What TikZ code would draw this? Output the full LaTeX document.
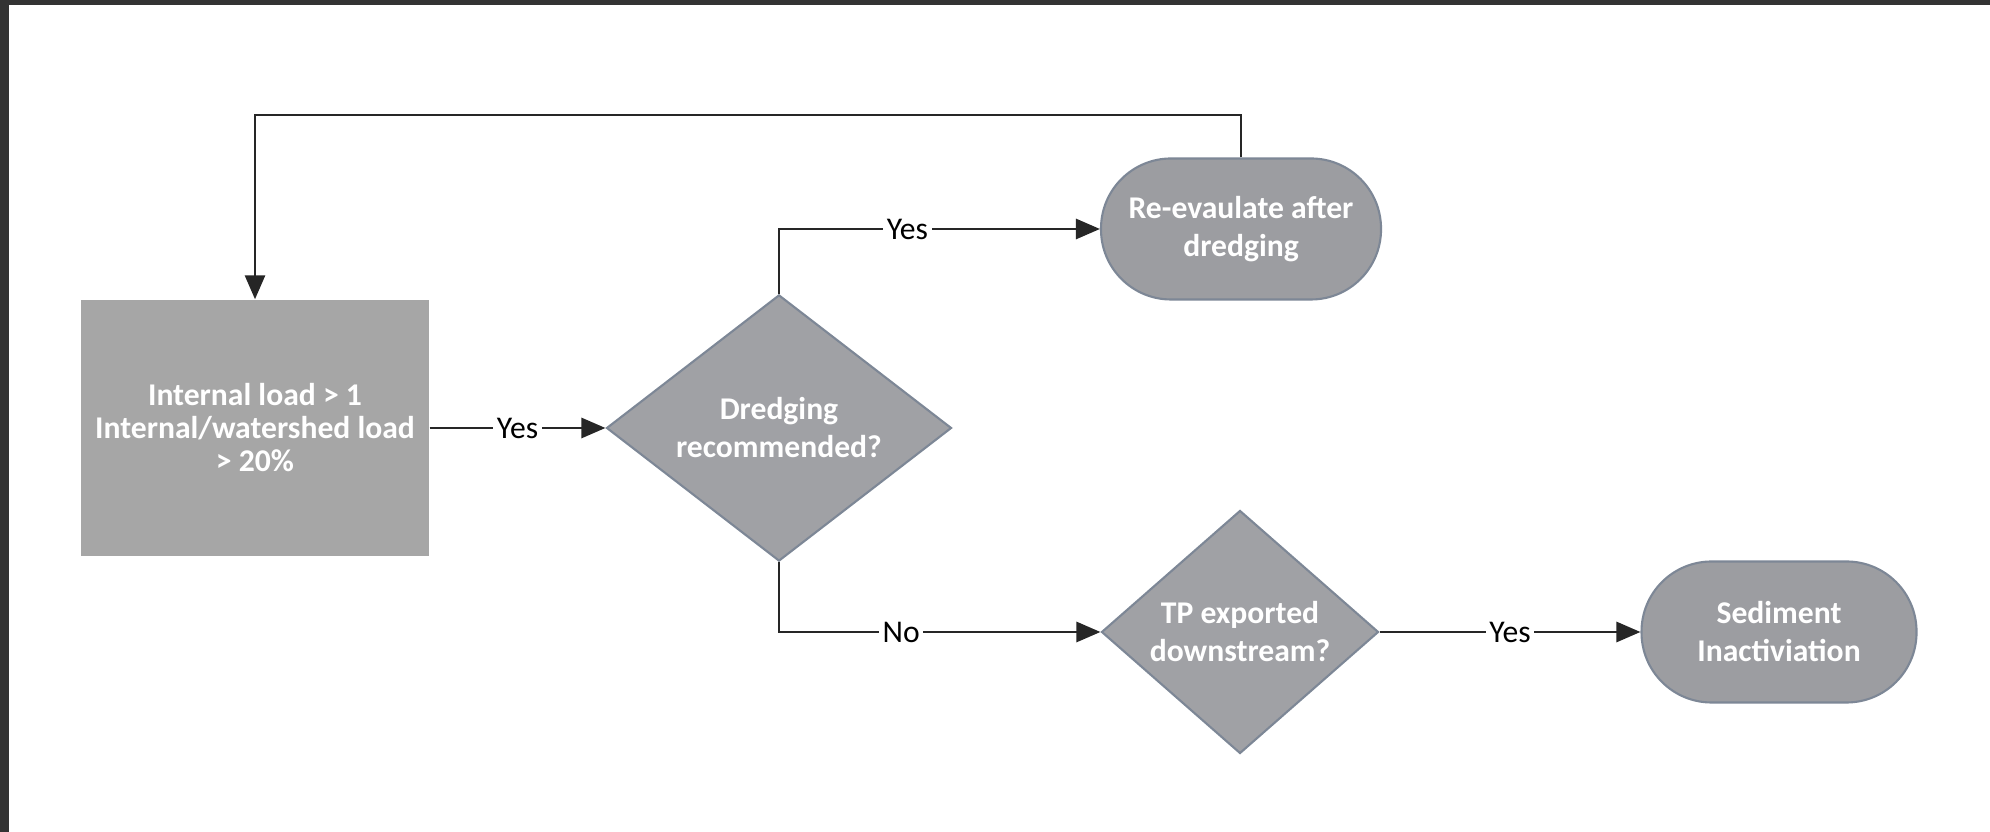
\documentclass[tikz,border=0pt]{standalone}
\usepackage{fontspec}
\setmainfont{Carlito}
\usetikzlibrary{arrows.meta,shapes.geometric}
\definecolor{cbox}{HTML}{A6A6A6}
\definecolor{cdec}{HTML}{A0A1A5}
\definecolor{cend}{HTML}{9C9DA1}
\definecolor{cedge}{HTML}{7D8796}
\definecolor{cframe}{HTML}{333333}

\begin{document}
\begin{tikzpicture}[
  flow/.style={-{Triangle[length=2.4mm,width=2mm]}, line width=0.8pt, black!85},
  lbl/.style={fill=white, inner sep=1pt, text=black, font=\fontsize{9}{10}\selectfont},
  txt/.style={text=white, align=center, font=\fontsize{9}{9.4}\selectfont\bfseries},
  wide/.style={font=\fontsize{9}{10.8}\selectfont\bfseries},
  process/.style={txt, rectangle, fill=cbox, minimum width=3.48cm, minimum height=2.56cm},
  decision/.style={txt, wide, diamond, draw=cedge, fill=cdec, line width=0.6pt, inner sep=0pt,
    minimum width=3.45cm, minimum height=2.55cm},
  terminal/.style={txt, wide, rectangle, rounded corners=0.7cm, draw=cedge, fill=cend, line width=0.6pt,
    minimum width=2.8cm, minimum height=1.41cm}
]
\def\W{19.9}
\def\H{8.32}
% frame
\useasboundingbox (0,0) rectangle (\W,\H);
\fill[cframe] (0,0) rectangle (\W,\H);
\fill[white] (0.09,0) rectangle (\W,8.27);

% boxes
\node[process] (load) at (2.55,4.04) {Internal load > 1\\Internal/watershed load\\> 20\%};
\node[decision] (dredge) at (7.79,4.04) {Dredging\\recommended?};
\node[terminal] (reeval) at (12.41,6.03) {Re-evaulate after\\dredging};
\node[decision, minimum width=2.77cm, minimum height=2.43cm] (export) at (12.40,2.00) {TP exported\\downstream?};
\node[terminal, minimum width=2.75cm] (inact) at (17.79,2.00) {Sediment\\Inactiviation};

% arrows
\draw[flow] (load) -- node[lbl] {Yes} (dredge);
\draw[flow] (dredge.north) |- node[lbl, pos=0.7] {Yes} (reeval.west);
\draw[flow] (dredge.south) |- node[lbl, pos=0.69] {No} (export.west);
\draw[flow] (export) -- node[lbl] {Yes} (inact);
% loop back
\coordinate (top) at (0,7.17);
\draw[flow] (reeval.north) -- (reeval.north |- top) -| (load.north);
\end{tikzpicture}
\end{document}
